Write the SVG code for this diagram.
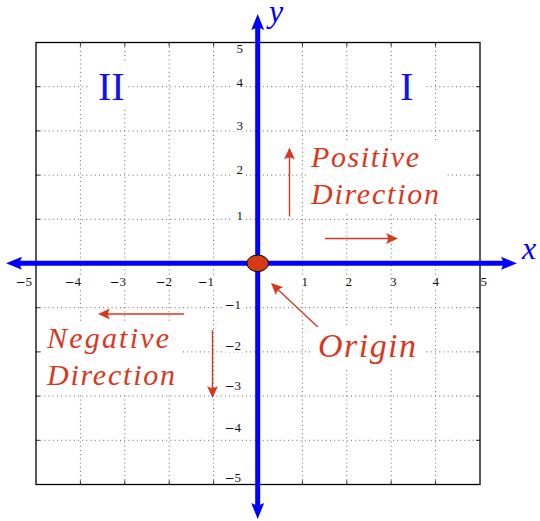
<svg xmlns="http://www.w3.org/2000/svg" width="540" height="521" viewBox="0 0 540 521">
<style>
.grid{stroke:#666;stroke-width:1;stroke-dasharray:1 3.2;fill:none}
.tick{stroke:#000;stroke-width:0.8}
.frame{fill:none;stroke:#000;stroke-width:1.3}
.bg{fill:#fff}
.num{font-family:"Liberation Serif","Times New Roman",serif;font-size:13px;fill:#111}
.mi{font-family:"DejaVu Serif",serif;font-size:12px}
.math{font-family:"Liberation Serif","Times New Roman",serif;font-style:italic;fill:#d9381e}
.axl{font-family:"Liberation Serif","Times New Roman",serif;font-style:italic;font-size:32px;fill:#0000ff}
.roman{font-family:"Liberation Serif","Times New Roman",serif;font-size:40px;fill:#1010f0}
.axis{stroke:#0000ff;stroke-width:5;fill:none}
.red{stroke:#d9381e;stroke-width:1.4;fill:none;marker-end:url(#ra)}
</style>
<defs>
<marker id="ra" viewBox="-10 -7 16 14" refX="0" refY="0" markerWidth="16" markerHeight="14" markerUnits="userSpaceOnUse" orient="auto">
<path d="M4,0 L-8,-5.5 Q-4,0 -8,5.5 Z" fill="#d9381e"/>
</marker>
<marker id="ba" viewBox="-8 -8 20 16" refX="0" refY="0" markerWidth="20" markerHeight="16" markerUnits="userSpaceOnUse" orient="auto-start-reverse">
<path d="M10,0 L-6,-6.5 Q-2,0 -6,6.5 Z" fill="#0000ff"/>
</marker>
</defs>
<rect width="540" height="521" fill="#fff"/>
<g id="grid">
<path class="grid" d="M80.4,42.5V484.5M124.8,42.5V484.5M169.2,42.5V484.5M213.6,42.5V484.5M302.4,42.5V484.5M346.8,42.5V484.5M391.2,42.5V484.5M435.6,42.5V484.5"/>
<path class="grid" d="M36,86.7H480M36,130.9H480M36,175.1H480M36,219.3H480M36,307.7H480M36,351.9H480M36,396.1H480M36,440.3H480"/>
<path class="tick" d="M80.4,42.5v4M124.8,42.5v4M169.2,42.5v4M213.6,42.5v4M302.4,42.5v4M346.8,42.5v4M391.2,42.5v4M435.6,42.5v4M80.4,484.5v-4M124.8,484.5v-4M169.2,484.5v-4M213.6,484.5v-4M302.4,484.5v-4M346.8,484.5v-4M391.2,484.5v-4M435.6,484.5v-4M36,86.7h4M36,130.9h4M36,175.1h4M36,219.3h4M36,307.7h4M36,351.9h4M36,396.1h4M36,440.3h4M480,86.7h-4M480,130.9h-4M480,175.1h-4M480,219.3h-4M480,307.7h-4M480,351.9h-4M480,396.1h-4M480,440.3h-4"/>
<rect class="frame" x="36" y="42.5" width="444" height="442"/>
</g>
<g id="tick-labels">
<rect class="bg" x="15" y="275" width="19" height="13"/>
<rect class="bg" x="64" y="275" width="20" height="13"/>
<rect class="bg" x="109" y="275" width="20" height="13"/>
<rect class="bg" x="155" y="275" width="20" height="13"/>
<rect class="bg" x="197" y="275" width="20" height="13"/>
<rect class="bg" x="301" y="275" width="9" height="13"/>
<rect class="bg" x="344" y="275" width="10" height="13"/>
<rect class="bg" x="389" y="275" width="11" height="13"/>
<rect class="bg" x="431" y="275" width="10" height="13"/>
<rect class="bg" x="481" y="275" width="8" height="13"/>
<text class="num" x="15.5" y="286"><tspan class="mi">−</tspan>5</text>
<text class="num" x="64.5" y="286"><tspan class="mi">−</tspan>4</text>
<text class="num" x="109.5" y="286"><tspan class="mi">−</tspan>3</text>
<text class="num" x="155.5" y="286"><tspan class="mi">−</tspan>2</text>
<text class="num" x="197.5" y="286"><tspan class="mi">−</tspan>1</text>
<text class="num" x="301.5" y="286">1</text>
<text class="num" x="345.5" y="286">2</text>
<text class="num" x="390" y="286">3</text>
<text class="num" x="432.5" y="286">4</text>
<text class="num" x="480.5" y="286">5</text>
<rect class="bg" x="233" y="44" width="11" height="11"/>
<rect class="bg" x="233" y="76" width="11" height="12"/>
<rect class="bg" x="233" y="119" width="11" height="12"/>
<rect class="bg" x="233" y="164" width="11" height="12"/>
<rect class="bg" x="233" y="209" width="11" height="12"/>
<rect class="bg" x="223" y="298" width="21" height="12"/>
<rect class="bg" x="223" y="340" width="21" height="12"/>
<rect class="bg" x="223" y="379" width="21" height="12"/>
<rect class="bg" x="223" y="421" width="21" height="12"/>
<rect class="bg" x="223" y="471" width="21" height="12"/>
<text class="num" x="243" y="53" text-anchor="end">5</text>
<text class="num" x="243" y="86.5" text-anchor="end">4</text>
<text class="num" x="243" y="130" text-anchor="end">3</text>
<text class="num" x="243" y="174" text-anchor="end">2</text>
<text class="num" x="243" y="220" text-anchor="end">1</text>
<text class="num" x="224.5" y="309"><tspan class="mi">−</tspan>1</text>
<text class="num" x="224.5" y="350"><tspan class="mi">−</tspan>2</text>
<text class="num" x="224.5" y="390"><tspan class="mi">−</tspan>3</text>
<text class="num" x="224.5" y="432"><tspan class="mi">−</tspan>4</text>
<text class="num" x="224.5" y="482"><tspan class="mi">−</tspan>5</text>
</g>
<g id="quadrant-II">
<rect class="bg" x="88" y="63" width="40" height="44"/>
<text class="roman" x="98" y="99.5">II</text>
</g>
<g id="quadrant-I">
<rect class="bg" x="394" y="63" width="30" height="44"/>
<text class="roman" x="400" y="99.5">I</text>
</g>
<g id="axes">
<path id="x-axis" class="axis" d="M16,263.3H507" marker-start="url(#ba)" marker-end="url(#ba)"/>
<path id="y-axis" class="axis" d="M257.7,509V24" marker-start="url(#ba)" marker-end="url(#ba)"/>
</g>
<g id="x-label"><text class="axl" x="522" y="259">x</text></g>
<g id="y-label"><text class="axl" x="269" y="22">y</text></g>
<g id="connectors">
<path class="red" d="M289.5,216.5V151.5"/>
<path class="red" d="M325,238.5H394"/>
<path class="red" d="M184,314H102"/>
<path class="red" d="M212.5,330V394"/>
<path class="red" d="M321.5,330.5L273.9,285.7"/>
</g>
<g id="positive-direction">
<rect class="bg" x="306" y="140" width="140" height="72"/>
<text class="math" x="311" y="167" font-size="30" textLength="108" lengthAdjust="spacing">Positive</text>
<text class="math" x="311" y="204" font-size="30" textLength="128" lengthAdjust="spacing">Direction</text>
</g>
<g id="negative-direction">
<rect class="bg" x="42" y="322" width="140" height="72"/>
<text class="math" x="47" y="348" font-size="30" textLength="122" lengthAdjust="spacing">Negative</text>
<text class="math" x="47" y="385" font-size="30" textLength="128" lengthAdjust="spacing">Direction</text>
</g>
<g id="origin-label">
<rect class="bg" x="311" y="327" width="113" height="40"/>
<text class="math" x="318" y="357" font-size="34" textLength="98" lengthAdjust="spacing">Origin</text>
</g>
<g id="origin">
<ellipse cx="257.7" cy="263.3" rx="10.8" ry="8.3" fill="#d43a14" stroke="#000" stroke-width="1"/>
</g>
</svg>
